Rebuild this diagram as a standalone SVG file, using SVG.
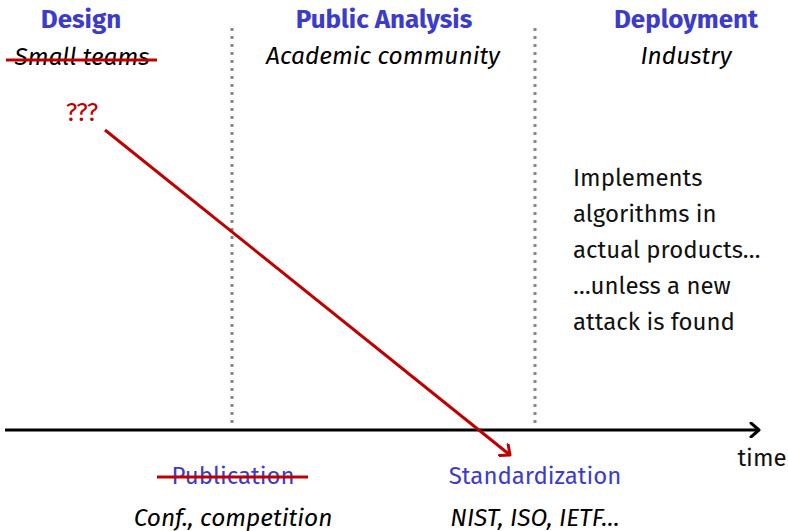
<svg xmlns="http://www.w3.org/2000/svg" width="788" height="531" viewBox="0 0 788 531">
<style>
text{font-family:"Fira Sans","Open Sans","Noto Sans",sans-serif;font-size:24px;}
.h{font-weight:bold;fill:#3c3ccc;text-anchor:middle;font-size:26px;}
.i{font-style:italic;fill:#000;text-anchor:middle;font-size:24.5px;}
.b{fill:#3c3ccc;text-anchor:middle;}
.r{fill:#c00000;text-anchor:middle;font-size:25px;}
.t{fill:#111;}
.strike{stroke:#c00000;stroke-width:3;}
.dot{stroke:#888;stroke-width:3;stroke-dasharray:3 5;}
</style>
<defs>
<marker id="ab" viewBox="0 0 12 16" refX="10" refY="8" markerWidth="12" markerHeight="16" markerUnits="userSpaceOnUse" orient="auto">
<path d="M2,1 L10,8 L2,15" fill="none" stroke="#000" stroke-width="3" stroke-linecap="round" stroke-linejoin="round"/>
</marker>
<marker id="ar" viewBox="0 0 12 16" refX="10" refY="8" markerWidth="12" markerHeight="16" markerUnits="userSpaceOnUse" orient="auto">
<path d="M2,1 L10,8 L2,15" fill="none" stroke="#c00000" stroke-width="3" stroke-linecap="round" stroke-linejoin="round"/>
</marker>
</defs>
<g id="connectors">
<line class="dot" x1="232" y1="28" x2="232" y2="428"/>
<line class="dot" x1="535" y1="28" x2="535" y2="428"/>
<line x1="5" y1="430" x2="759" y2="430" stroke="#000" stroke-width="3" marker-end="url(#ab)"/>
<line x1="105" y1="130" x2="510" y2="455" stroke="#c00000" stroke-width="3" marker-end="url(#ar)"/>
</g>
<g id="design">
<text class="h" x="81" y="28">Design</text>
<text class="i" x="82" y="65">Small teams</text>
<line class="strike" x1="6" y1="60" x2="157" y2="60"/>
<text class="r" x="82" y="121">???</text>
</g>
<g id="analysis">
<text class="h" x="384" y="28">Public Analysis</text>
<text class="i" x="383" y="64">Academic community</text>
</g>
<g id="deployment">
<text class="h" x="686" y="28">Deployment</text>
<text class="i" x="686" y="64">Industry</text>
<text class="t" x="573" y="186">Implements</text>
<text class="t" x="573" y="222">algorithms in</text>
<text class="t" x="573" y="258">actual products…</text>
<text class="t" x="573" y="294">…unless a new</text>
<text class="t" x="573" y="330">attack is found</text>
</g>
<g id="publication">
<text class="b" x="233" y="484">Publication</text>
<line class="strike" x1="157" y1="477" x2="308" y2="477"/>
<text class="i" x="233" y="526">Conf., competition</text>
</g>
<g id="standardization">
<text class="b" x="535" y="484">Standardization</text>
<text class="i" x="535" y="526">NIST, ISO, IETF…</text>
</g>
<g id="time">
<text class="t" x="762" y="466" text-anchor="middle">time</text>
</g>
</svg>
